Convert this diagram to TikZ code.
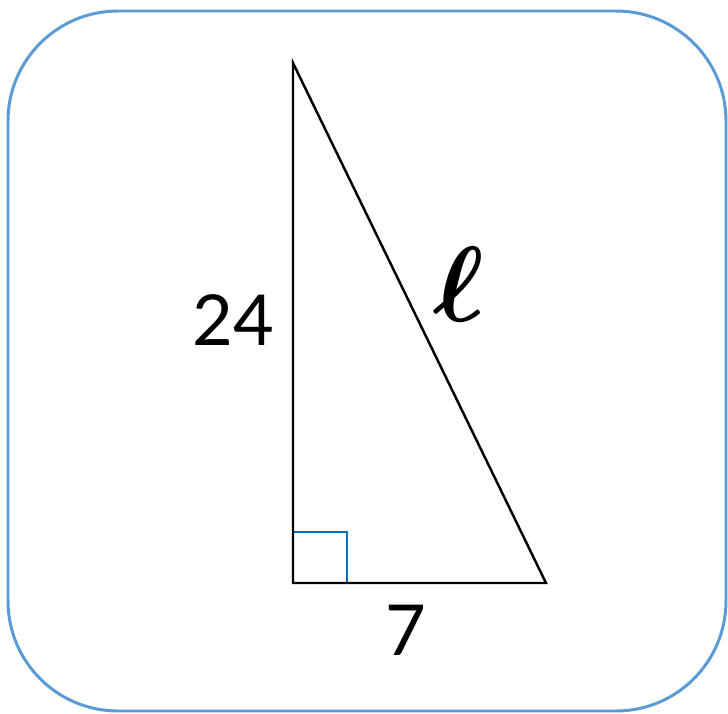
\documentclass[tikz,border=0pt]{standalone}
\usepackage{amsmath,amssymb,bm}
\usepackage{fontspec}
\setmainfont{Lato}
\usetikzlibrary{positioning,calc}
\definecolor{frameblue}{RGB}{91,155,213}
\definecolor{markblue}{RGB}{0,112,192}
\tikzset{
  frame/.style={draw=frameblue, line width=1.7pt, rounded corners=2.2cm},
  side/.style={draw=black, line width=1.4pt, line join=miter},
  rightmark/.style={draw=markblue, line width=1.3pt},
  sidelabel/.style={font=\fontsize{40}{46}\selectfont, inner sep=0pt},
  hyplabel/.style={font=\Huge, scale=2.45, inner sep=0pt}
}
\begin{document}
\begin{tikzpicture}[x=0.02cm, y=-0.02cm]
    \useasboundingbox (0,0) rectangle (728,714);
    \draw[frame] (8,11) rectangle (726,711);

    \coordinate (apex) at (293,63);
    \coordinate (corner) at (293,583);
    \coordinate (foot) at (546,583);

    \draw[rightmark] (corner) rectangle ++(54,-51);
    \draw[side] (apex) -- (corner) -- (foot) -- cycle;

    \node[sidelabel] (leg24) at (233,320) {24};
    \node[sidelabel] (leg7) at (406,630) {7};
    \node[hyplabel] (hyp) at (459,284) {$\boldsymbol{\ell}$};
  \end{tikzpicture}
\end{document}
